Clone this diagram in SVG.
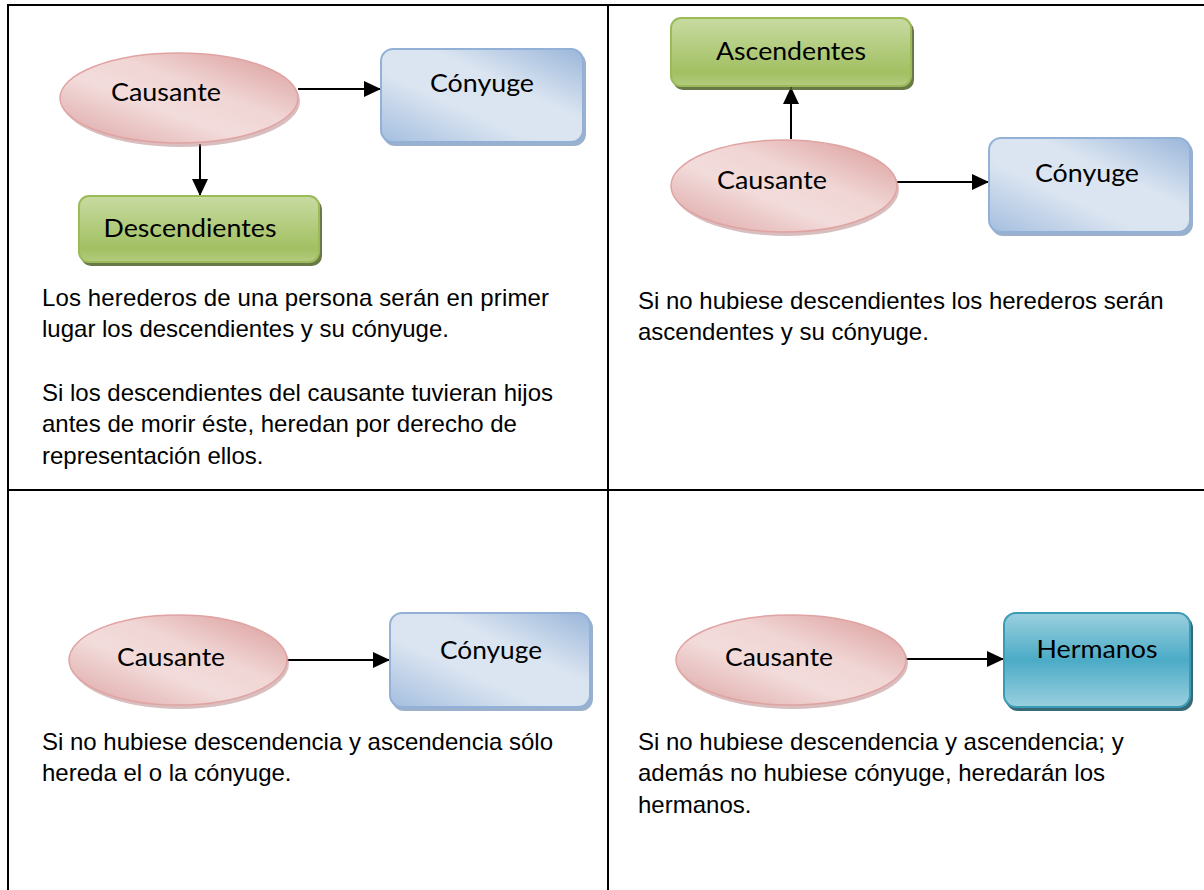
<svg xmlns="http://www.w3.org/2000/svg" width="1204" height="890" viewBox="0 0 1204 890">
<defs>
<style>
.grid{stroke:#000;stroke-width:2;fill:none}
.body{font-family:"Liberation Sans",Arial,sans-serif;font-size:24px;fill:#000}
.lbl{font-family:Lato,"Open Sans",sans-serif;font-size:25px;fill:#000;text-anchor:middle}
.conn{stroke:#000;stroke-width:2;fill:none;marker-end:url(#ah)}
.ell{fill:url(#gPink);stroke:#e0a3a2;stroke-width:1.5}
.ellS{fill:#b88988;opacity:0.55}
.blue{fill:url(#gBlue);stroke:#93b1d6;stroke-width:2}
.blueS{fill:#6f8fb8;opacity:0.7}
.green{fill:url(#gGreen);stroke:#9bbb59;stroke-width:2}
.greenS{fill:#4f6228;opacity:0.85}
.teal{fill:url(#gTeal);stroke:#3b9ab5;stroke-width:2}
.tealS{fill:#215968;opacity:0.9}
</style>
<linearGradient id="gPink" x1="0" y1="1" x2="1" y2="0">
<stop offset="0" stop-color="#dca3a2"/>
<stop offset="0.4" stop-color="#f2dcdb"/>
<stop offset="0.6" stop-color="#f0d6d5"/>
<stop offset="1" stop-color="#d99896"/>
</linearGradient>
<linearGradient id="gBlue" x1="0" y1="1" x2="1" y2="0">
<stop offset="0" stop-color="#a4bedf"/>
<stop offset="0.38" stop-color="#dbe5f1"/>
<stop offset="0.62" stop-color="#dbe5f1"/>
<stop offset="1" stop-color="#9ab6da"/>
</linearGradient>
<linearGradient id="gGreen" x1="0" y1="0" x2="0" y2="1">
<stop offset="0" stop-color="#c8dba2"/>
<stop offset="0.8" stop-color="#a2c062"/>
<stop offset="1" stop-color="#b3cb80"/>
</linearGradient>
<linearGradient id="gTeal" x1="0" y1="0" x2="0" y2="1">
<stop offset="0" stop-color="#9bd0df"/>
<stop offset="0.5" stop-color="#4babc6"/>
<stop offset="1" stop-color="#9ad0df"/>
</linearGradient>
<marker id="ah" viewBox="0 0 17 16" refX="17" refY="8" markerWidth="17" markerHeight="16" markerUnits="userSpaceOnUse" orient="auto">
<path d="M0,0 L17,8 L0,16 z" fill="#000"/>
</marker>
</defs>
<rect x="0" y="0" width="1204" height="890" fill="#fff"/>
<g id="table">
<line class="grid" x1="7" y1="5" x2="1204" y2="5"/>
<line class="grid" x1="8" y1="4" x2="8" y2="890"/>
<line class="grid" x1="608" y1="5" x2="608" y2="890"/>
<line class="grid" x1="7" y1="490" x2="1204" y2="490"/>
</g>
<g id="connectors">
<line class="conn" x1="298" y1="89" x2="381" y2="89"/>
<line class="conn" x1="200" y1="144" x2="200" y2="196"/>
<line class="conn" x1="791" y1="139" x2="791" y2="87"/>
<line class="conn" x1="897" y1="182" x2="989" y2="182"/>
<line class="conn" x1="287" y1="660" x2="390" y2="660"/>
<line class="conn" x1="906" y1="659" x2="1004" y2="659"/>
</g>
<g id="tl-causante">
<ellipse class="ellS" cx="181" cy="101" rx="119" ry="46"/>
<ellipse class="ell" cx="179" cy="98" rx="119" ry="45"/>
<text class="lbl" x="166" y="101" textLength="110" lengthAdjust="spacingAndGlyphs">Causante</text>
</g>
<g id="tl-conyuge">
<rect class="blueS" x="383" y="52" width="203" height="94" rx="12"/>
<rect class="blue" x="381" y="49" width="202" height="93" rx="12"/>
<text class="lbl" x="482" y="92" textLength="104" lengthAdjust="spacingAndGlyphs">Cónyuge</text>
</g>
<g id="tl-descendientes">
<rect class="greenS" x="81" y="199" width="241" height="67" rx="10"/>
<rect class="green" x="79" y="196" width="240" height="66" rx="10"/>
<text class="lbl" x="190" y="237" textLength="173" lengthAdjust="spacingAndGlyphs">Descendientes</text>
</g>
<g id="tr-ascendentes">
<rect class="greenS" x="673" y="21" width="241" height="69" rx="10"/>
<rect class="green" x="671" y="18" width="240" height="68" rx="10"/>
<text class="lbl" x="791" y="60" textLength="150" lengthAdjust="spacingAndGlyphs">Ascendentes</text>
</g>
<g id="tr-causante">
<ellipse class="ellS" cx="786" cy="189" rx="113" ry="47"/>
<ellipse class="ell" cx="784" cy="186" rx="113" ry="46"/>
<text class="lbl" x="772" y="189" textLength="110" lengthAdjust="spacingAndGlyphs">Causante</text>
</g>
<g id="tr-conyuge">
<rect class="blueS" x="991" y="141" width="202" height="95" rx="12"/>
<rect class="blue" x="989" y="138" width="201" height="94" rx="12"/>
<text class="lbl" x="1087" y="182" textLength="104" lengthAdjust="spacingAndGlyphs">Cónyuge</text>
</g>
<g id="bl-causante">
<ellipse class="ellS" cx="180" cy="663" rx="109" ry="46"/>
<ellipse class="ell" cx="178" cy="660" rx="109" ry="45"/>
<text class="lbl" x="171" y="666" textLength="108" lengthAdjust="spacingAndGlyphs">Causante</text>
</g>
<g id="bl-conyuge">
<rect class="blueS" x="392" y="616" width="201" height="95" rx="12"/>
<rect class="blue" x="390" y="613" width="200" height="94" rx="12"/>
<text class="lbl" x="491" y="659" textLength="102" lengthAdjust="spacingAndGlyphs">Cónyuge</text>
</g>
<g id="br-causante">
<ellipse class="ellS" cx="793" cy="663" rx="115" ry="46"/>
<ellipse class="ell" cx="791" cy="660" rx="115" ry="45"/>
<text class="lbl" x="779" y="666" textLength="108" lengthAdjust="spacingAndGlyphs">Causante</text>
</g>
<g id="br-hermanos">
<rect class="tealS" x="1006" y="616" width="187" height="95" rx="12"/>
<rect class="teal" x="1004" y="613" width="186" height="94" rx="12"/>
<text class="lbl" x="1097" y="658" textLength="121" lengthAdjust="spacingAndGlyphs">Hermanos</text>
</g>
<g id="texts">
<text class="body" x="42" y="306" textLength="507">Los herederos de una persona serán en primer</text>
<text class="body" x="42" y="337">lugar los descendientes y su cónyuge.</text>
<text class="body" x="42" y="401">Si los descendientes del causante tuvieran hijos</text>
<text class="body" x="42" y="432">antes de morir éste, heredan por derecho de</text>
<text class="body" x="42" y="464">representación ellos.</text>
<text class="body" x="638" y="309">Si no hubiese descendientes los herederos serán</text>
<text class="body" x="638" y="340">ascendentes y su cónyuge.</text>
<text class="body" x="42" y="750">Si no hubiese descendencia y ascendencia sólo</text>
<text class="body" x="42" y="781">hereda el o la cónyuge.</text>
<text class="body" x="638" y="750">Si no hubiese descendencia y ascendencia; y</text>
<text class="body" x="638" y="781">además no hubiese cónyuge, heredarán los</text>
<text class="body" x="638" y="813">hermanos.</text>
</g>
</svg>
